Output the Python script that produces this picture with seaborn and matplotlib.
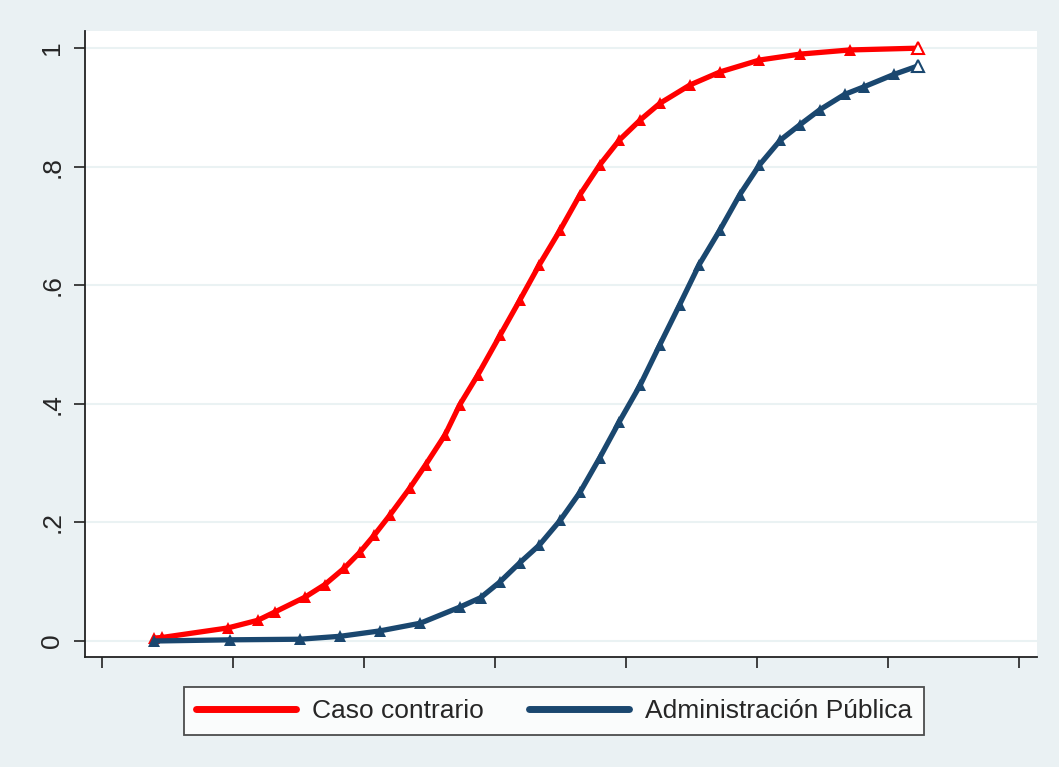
import numpy as np
import pandas as pd
import seaborn as sns
import matplotlib.pyplot as plt

# datos (eje x sin etiquetas)
x_caso = [0.40, 0.46, 0.96, 1.19, 1.32, 1.55, 1.70, 1.85, 1.97, 2.08, 2.20, 2.35, 2.47,
          2.62, 2.73, 2.87, 3.04, 3.19, 3.34, 3.50, 3.65, 3.80, 3.95, 4.11, 4.26, 4.49,
          4.72, 5.02, 5.33, 5.71, 6.23]
y_caso = [0.005, 0.006, 0.022, 0.035, 0.049, 0.074, 0.095, 0.123, 0.150, 0.179, 0.213,
          0.258, 0.297, 0.348, 0.398, 0.449, 0.516, 0.575, 0.635, 0.694, 0.753, 0.803,
          0.845, 0.879, 0.907, 0.938, 0.960, 0.980, 0.990, 0.997, 1.0]

x_admin = [0.40, 0.98, 1.51, 1.82, 2.12, 2.43, 2.73, 2.89, 3.04, 3.19, 3.34, 3.50, 3.65,
           3.80, 3.95, 4.11, 4.26, 4.41, 4.56, 4.72, 4.87, 5.02, 5.18, 5.33, 5.48, 5.67,
           5.82, 6.05, 6.23]
y_admin = [0.0, 0.002, 0.003, 0.008, 0.017, 0.030, 0.057, 0.073, 0.100, 0.132, 0.162,
           0.204, 0.251, 0.309, 0.370, 0.432, 0.500, 0.567, 0.635, 0.694, 0.753, 0.803,
           0.845, 0.871, 0.896, 0.922, 0.935, 0.956, 0.970]

grupos = ['Caso contrario', 'Administración Pública']
colores = ['#FF0000', '#1A476F']
y_ticks = [0, 0.2, 0.4, 0.6, 0.8, 1.0]
y_labels = ['0', '.2', '.4', '.6', '.8', '1']
x_ticks = list(range(8))

df = pd.concat([
    pd.DataFrame({'x': x_caso, 'y': y_caso, 'grupo': grupos[0]}),
    pd.DataFrame({'x': x_admin, 'y': y_admin, 'grupo': grupos[1]}),
])

sns.set_style('white')
plt.rcParams['font.family'] = ['Liberation Sans', 'DejaVu Sans']

fondo = '#EAF1F3'
fig = plt.figure(figsize=(10.59, 7.67), dpi=100, facecolor=fondo)
ax = fig.add_axes([0.0803, 0.1434, 0.8990, 0.8162])
ax.set_facecolor('white')

sns.lineplot(data=df, x='x', y='y', hue='grupo', palette=colores, marker='^',
             markersize=8, markeredgewidth=0, linewidth=3.8, sort=False,
             estimator=None, ax=ax, legend=False)

# triangulo hueco al final de cada serie
for xs, ys, c in [(x_caso, y_caso, colores[0]), (x_admin, y_admin, colores[1])]:
    ax.plot(xs[-1], ys[-1], marker='^', markersize=9, mfc='white', mec=c,
            mew=1.5, zorder=5)

ax.set_xlim(-0.13, 7.14)
ax.set_ylim(-0.027, 1.029)
ax.set_xticks(x_ticks)
ax.set_xticklabels([])
ax.set_yticks(y_ticks)
ax.set_yticklabels(y_labels, rotation=90, va='center', fontsize=19)
ax.set_xlabel('')
ax.set_ylabel('')
ax.grid(axis='y', color='#EAF2F3', linewidth=1.5)
ax.grid(axis='x', visible=False)
ax.tick_params(axis='both', direction='out', length=8, width=1.2, color='#222222',
               left=True, bottom=True, pad=7)
for s in ['top', 'right']:
    ax.spines[s].set_visible(False)
for s in ['left', 'bottom']:
    ax.spines[s].set_color('#222222')
    ax.spines[s].set_linewidth(1.3)

handles = [plt.Line2D([], [], color=c, linewidth=5, marker='^', markersize=4,
                      markeredgewidth=0) for c in colores]
leg = fig.legend(handles, grupos, loc='center', bbox_to_anchor=(0.523, 0.073),
                 ncol=2, fontsize=19, frameon=True, fancybox=False,
                 handlelength=3.8, columnspacing=1.7, handletextpad=0.6,
                 borderpad=0.45, edgecolor='#222222')
leg.get_frame().set_linewidth(1.3)

fig.savefig('out.png', dpi=100, facecolor=fondo)
